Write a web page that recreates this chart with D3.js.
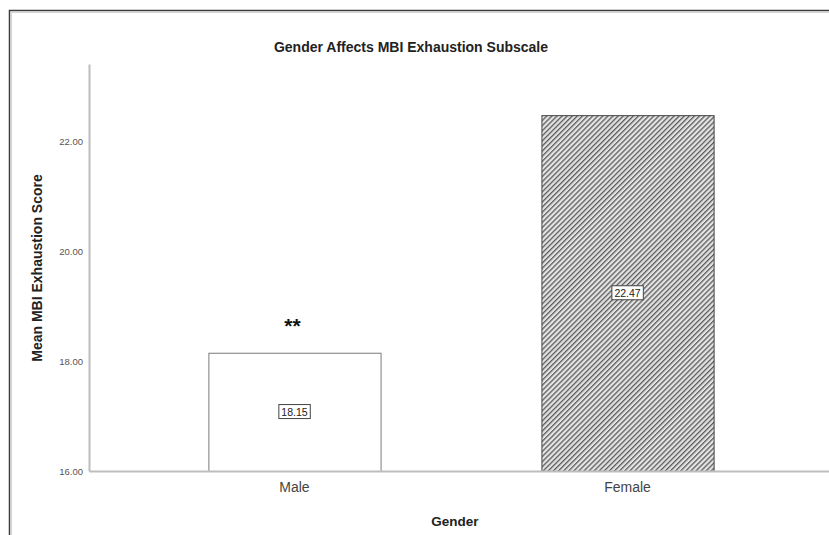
<!DOCTYPE html>
<html>
<head>
<meta charset="utf-8">
<script src="https://cdn.jsdelivr.net/npm/d3@7"></script>
<style>
  body { margin: 0; background: #fff; }
  svg { display: block; font-family: "Liberation Sans", Arial, sans-serif; }
</style>
</head>
<body>
<svg id="chart" width="829" height="535"></svg>
<script>
// Mean MBI exhaustion score by gender
const categories = ["Male", "Female"];
const means = [18.15, 22.47];
const yTicks = [16, 18, 20, 22];
const significance = ["**", ""];

const svg = d3.select("#chart");
const W = 829, H = 535;

// outer frame
svg.append("rect").attr("x", 9.5).attr("y", 10.5).attr("width", W + 20).attr("height", H + 20)
  .attr("fill", "none").attr("stroke", "#3a3a3a").attr("stroke-width", 1.5);
svg.append("path").attr("d", `M11.5,${H}V12.5H${W}`)
  .attr("fill", "none").attr("stroke", "#d4d4d4").attr("stroke-width", 1);

// hatch for the second bar
const defs = svg.append("defs");
const pat = defs.append("pattern").attr("id", "hatch").attr("patternUnits", "userSpaceOnUse")
  .attr("width", 3.6).attr("height", 3.6).attr("patternTransform", "rotate(-45)");
pat.append("rect").attr("width", 3.6).attr("height", 3.6).attr("fill", "#e4e4e4");
pat.append("rect").attr("x", 0).attr("y", 0).attr("width", 3.6).attr("height", 1.3).attr("fill", "#5a5a5a");

const x = d3.scaleBand().domain(categories).range([89, 833])
  .paddingInner(0.483).paddingOuter(0.3585);
const y = d3.scaleLinear().domain([16, 23.4]).range([471, 64]);

// y axis
const yAxis = svg.append("g").attr("transform", "translate(89,0)")
  .call(d3.axisLeft(y).tickValues(yTicks).tickFormat(d3.format(".2f")).tickSize(0).tickPadding(6));
yAxis.select(".domain").attr("stroke", "#bdbdbd").attr("stroke-width", 2);
yAxis.selectAll("text").attr("font-size", 9.5).attr("fill", "#555").attr("font-family", "Liberation Sans, Arial, sans-serif");

// bars
const fills = ["#ffffff", "url(#hatch)"];
const strokes = ["#7a7a7a", "#444"];
svg.selectAll("rect.bar").data(means).join("rect").attr("class", "bar")
  .attr("x", (d, i) => x(categories[i]) + 0.5)
  .attr("y", d => y(d) + 0.5)
  .attr("width", x.bandwidth())
  .attr("height", d => y(16) - y(d))
  .attr("fill", (d, i) => fills[i])
  .attr("stroke", (d, i) => strokes[i]).attr("stroke-width", 1);

// x axis
const xAxis = svg.append("g").attr("transform", "translate(0,471)")
  .call(d3.axisBottom(x).tickSize(0).tickPadding(11));
xAxis.select(".domain").attr("stroke", "#bdbdbd").attr("stroke-width", 2);
xAxis.selectAll("text").attr("font-size", 14).attr("fill", "#444").attr("font-family", "Liberation Sans, Arial, sans-serif");

// value labels in boxes, centred in each bar
means.forEach((v, i) => {
  const cx = x(categories[i]) + x.bandwidth() / 2;
  const cy = (y(v) + y(16)) / 2;
  const g = svg.append("g").attr("transform", `translate(${cx},${cy})`);
  const t = g.append("text").attr("text-anchor", "middle").attr("dy", "0.35em")
    .attr("font-size", 10.5).attr("fill", "#222").text(v.toFixed(2));
  const bb = t.node().getBBox();
  g.insert("rect", "text").attr("x", bb.x - 2.5).attr("y", bb.y - 1)
    .attr("width", bb.width + 5).attr("height", bb.height + 2)
    .attr("fill", "#fff").attr("stroke", "#444").attr("stroke-width", 1);
});

// significance markers above bars
significance.forEach((s, i) => {
  if (!s) return;
  svg.append("text").attr("x", x(categories[i]) + x.bandwidth() / 2 - 2)
    .attr("y", y(means[i]) - 20).attr("text-anchor", "middle")
    .attr("font-size", 21).attr("font-weight", "bold").attr("fill", "#111").text(s);
});

// title and axis titles
svg.append("text").attr("x", 411).attr("y", 52).attr("text-anchor", "middle")
  .attr("font-size", 14).attr("font-weight", "bold").attr("fill", "#222")
  .text("Gender Affects MBI Exhaustion Subscale");
svg.append("text").attr("transform", "translate(42,268) rotate(-90)").attr("text-anchor", "middle")
  .attr("font-size", 14).attr("font-weight", "bold").attr("fill", "#222")
  .text("Mean MBI Exhaustion Score");
svg.append("text").attr("x", 455).attr("y", 526).attr("text-anchor", "middle")
  .attr("font-size", 13.5).attr("font-weight", "bold").attr("fill", "#222")
  .text("Gender");
</script>
</body>
</html>
